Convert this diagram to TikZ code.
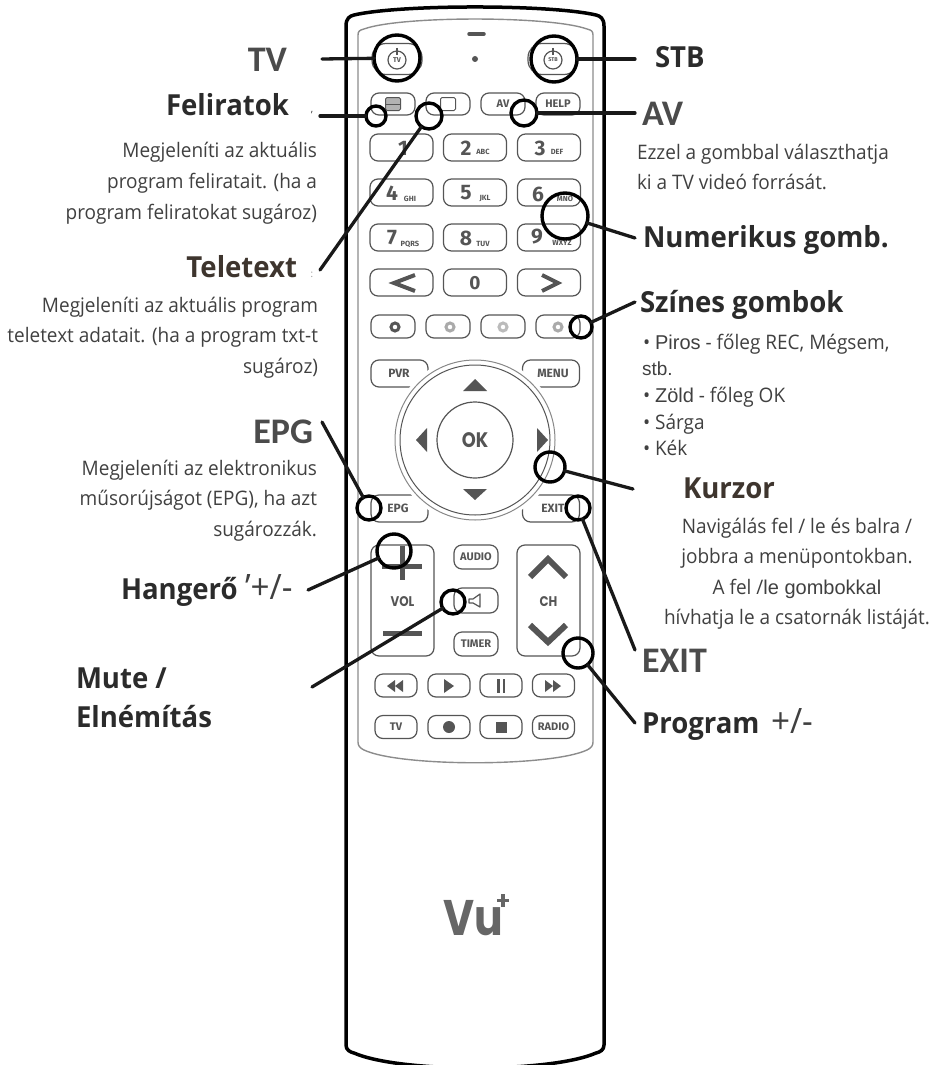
\documentclass[tikz,border=0pt]{standalone}
\usepackage{fontspec}
\setmainfont{Open Sans}[FakeStretch=0.95]
\newfontfamily\capfont{Carlito}
\newfontfamily\armfont{Liberation Sans}
\newfontfamily\keyfont{Fira Sans}
\newfontfamily\logofont{Poppins}[FakeStretch=0.85]
\definecolor{keygray}{HTML}{555555}
\definecolor{panelgray}{HTML}{8C8C8C}
\definecolor{inktext}{HTML}{2B2B2B}
\definecolor{browntext}{HTML}{3E352E}
\begin{document}
\begin{tikzpicture}[x={(1pt,0pt)},y={(0pt,-1pt)},
  every node/.style={inner sep=0pt, outer sep=0pt},
  btn/.style={draw=keygray, line width=1.2pt, rounded corners=8pt, text=keygray, font=\keyfont\bfseries\fontsize{11}{11}\selectfont},
  lead/.style={circle, draw=black, line width=3.4pt, minimum size=#1},
  wire/.style={line width=3.3pt, color=black!90, line cap=round},
  head/.style={font=\bfseries\fontsize{29}{29}\selectfont, text=inktext},
  caph/.style={font=\capfont\bfseries\fontsize{36}{36}\selectfont, text=inktext!85},
  body/.style={font=\fontsize{20}{20}\selectfont, text=inktext!90},
  sign/.style={font=\fontsize{35}{35}\selectfont, text=inktext!90},
  digit/.style={text=keygray, font=\keyfont\bfseries\fontsize{21}{21}\selectfont},
  abc/.style={text=keygray, font=\keyfont\bfseries\fontsize{7.5}{7.5}\selectfont},
  keyw/.style={text=keygray, font=\logofont\bfseries\fontsize{#1}{#1}\selectfont}]
\useasboundingbox (0,0) rectangle (934,1065);
\draw[line width=3.5pt] (346,1045) -- (346,26) .. controls (346,18) and (350,16) .. (354,15) .. controls (400,4.3) and (550,4.3) .. (596,15) .. controls (600,16) and (604,18) .. (604,26) -- (604,1045) .. controls (604,1050) and (600,1052) .. (596,1053) .. controls (550,1073) and (400,1073) .. (354,1053) .. controls (350,1052) and (346,1050) .. (346,1045) -- cycle;
\draw[color=panelgray,line width=1.4pt] (358,742) -- (358,35) .. controls (358,31) and (360,30) .. (364,29) .. controls (400,15.7) and (550,15.7) .. (587,29) .. controls (591,30) and (593,31) .. (593,35) -- (593,742) .. controls (593,746) and (591,748) .. (587,750) .. controls (550,767) and (400,767) .. (364,750) .. controls (360,748) and (358,746) .. (358,742) -- cycle;
\draw[line width=3.5pt,color=keygray,line cap=round] (469,34) -- (484,34);
\node[circle,fill=keygray,minimum size=6] (ledmark) at (475,59) {};
\node[btn,rounded corners=14pt,minimum width=50,minimum height=31] (tvbtn) at (397,59) {};
\node[btn,rounded corners=14pt,minimum width=50,minimum height=31] (stbbtn) at (553,59) {};
\node[circle,draw=keygray,line width=1.2pt,minimum size=18,text=keygray,font=\keyfont\bfseries\fontsize{7}{7}\selectfont] (tvicon) at (397,60) {TV};
\node[circle,draw=keygray,line width=1.2pt,minimum size=18,text=keygray,font=\keyfont\bfseries\fontsize{5.5}{5.5}\selectfont] (stbicon) at (553,60) {STB};
\draw[color=keygray,line width=1.2pt] (397,48) -- (397,55);
\draw[color=keygray,line width=1.2pt] (553,48) -- (553,55);
\node[btn,minimum width=44,minimum height=22] (txtbtn) at (393,104) {};
\node[btn,minimum width=44,minimum height=22] (subbtn) at (448,104) {};
\node[btn,minimum width=44,minimum height=22] (avbtn) at (503,104) {AV};
\node[btn,minimum width=44,minimum height=22] (helpbtn) at (558,104) {HELP};
\node[draw=keygray,fill=keygray!45,line width=1pt,rounded corners=1.5pt,minimum width=15,minimum height=13] (txticon) at (393,104) {};
\draw[color=keygray,line width=1pt] (txticon.west) -- (txticon.east);
\node[draw=keygray,line width=1pt,rounded corners=1.5pt,minimum width=15,minimum height=13] (subicon) at (448,104) {};
\node[btn,minimum width=63,minimum height=27] (numa) at (401.5,147.5) {};
\node[btn,minimum width=63,minimum height=27] (numb) at (475,147.5) {};
\node[btn,minimum width=63,minimum height=27] (numc) at (549,147.5) {};
\node[btn,minimum width=63,minimum height=27] (numd) at (401.5,192.5) {};
\node[btn,minimum width=63,minimum height=27] (nume) at (475,192.5) {};
\node[btn,minimum width=63,minimum height=27] (numf) at (549,192.5) {};
\node[btn,minimum width=63,minimum height=27] (numg) at (401.5,237.5) {};
\node[btn,minimum width=63,minimum height=27] (numh) at (475,237.5) {};
\node[btn,minimum width=63,minimum height=27] (numi) at (549,237.5) {};
\node[btn,minimum width=63,minimum height=27] (numl) at (401.5,282.5) {};
\node[btn,minimum width=63,minimum height=27] (numo) at (475,282.5) {};
\node[btn,minimum width=63,minimum height=27] (numr) at (549,282.5) {};
\node[digit] (dga) at (403,148) {1};
\node[digit] (dgb) at (466,148) {2};
\node[digit] (dgc) at (540,148) {3};
\node[digit] (dgd) at (392,193) {4};
\node[digit] (dge) at (466,193) {5};
\node[digit] (dgf) at (538,194) {6};
\node[digit] (dgg) at (392,238) {7};
\node[digit] (dgh) at (466,238) {8};
\node[digit] (dgi) at (537,237) {9};
\node[abc] (aba) at (483,152) {ABC};
\node[abc] (abb) at (557,152) {DEF};
\node[abc] (abc) at (410,199) {GHI};
\node[abc] (abd) at (485,199) {JKL};
\node[abc] (abe) at (565,199) {MNO};
\node[abc] (abf) at (410,244) {PQRS};
\node[abc] (abg) at (483,244) {TUV};
\node[abc] (abh) at (562,243) {WXYZ};
\node[digit,font=\keyfont\bfseries\fontsize{19}{19}\selectfont] (dgo) at (475,283) {0};
\draw[color=keygray,line width=4pt] (415,275) -- (394,283) -- (415,291);
\draw[color=keygray,line width=4pt] (542,275) -- (558,283) -- (542,291);
\node[btn,minimum width=44,minimum height=23] (redbtn) at (393,326.5) {};
\node[btn,minimum width=44,minimum height=23] (grnbtn) at (448,326.5) {};
\node[btn,minimum width=44,minimum height=23] (ylwbtn) at (503,326.5) {};
\node[btn,minimum width=44,minimum height=23] (blubtn) at (558,326.5) {};
\node[circle,draw=keygray,line width=3pt,minimum size=8] (reddot) at (395,327) {};
\node[circle,draw=keygray!50,line width=3pt,minimum size=8] (grndot) at (450,327) {};
\node[circle,draw=keygray!40,line width=3pt,minimum size=8] (ylwdot) at (503,327) {};
\node[circle,draw=keygray!50,line width=3pt,minimum size=8] (bludot) at (558,327) {};
\node[btn,minimum width=57,minimum height=27] (pvrbtn) at (399.5,373.5) {};
\node[btn,minimum width=57,minimum height=27] (menubtn) at (551,373.5) {};
\node[btn,minimum width=57,minimum height=27] (epgbtn) at (399.5,508.5) {};
\node[btn,minimum width=57,minimum height=27] (exitbtn) at (551,508.5) {};
\node[circle,fill=white,minimum size=168] (ringbg) at (475,440) {};
\node[circle,draw=keygray!70,line width=1pt,minimum size=160] (ringa) at (475,440) {};
\node[circle,draw=keygray,line width=1pt,minimum size=150] (ringb) at (475,440) {};
\node[circle,draw=keygray,line width=1.2pt,minimum size=76,keyw=21] (okbtn) at (475,440) {OK};
\node[btn,draw=none,font=\keyfont\bfseries\fontsize{12}{12}\selectfont] (pvrtext) at (399,373) {PVR};
\node[btn,draw=none,font=\keyfont\bfseries\fontsize{12}{12}\selectfont] (menutext) at (553,373) {MENU};
\node[btn,draw=none,font=\keyfont\bfseries\fontsize{12}{12}\selectfont] (epgtext) at (398,508) {EPG};
\node[btn,draw=none,font=\keyfont\bfseries\fontsize{12}{12}\selectfont] (exittext) at (553,508) {EXIT};
\fill[color=keygray] (475,379) -- (487,391) -- (463,391) -- cycle;
\fill[color=keygray] (475,500) -- (487,489) -- (463,489) -- cycle;
\fill[color=keygray] (416,440) -- (427,428) -- (427,452) -- cycle;
\fill[color=keygray] (537,428) -- (537,452) -- (548,440) -- cycle;
\node[btn,minimum width=63,minimum height=111] (volbtn) at (402.5,600.5) {};
\node[btn,minimum width=63,minimum height=111] (chbtn) at (548.5,600.5) {};
\node[keyw=14] (voltext) at (402.5,602) {VOL};
\node[keyw=14] (chtext) at (548.5,602) {CH};
\draw[color=keygray,line width=5pt] (382,566) -- (422,566);
\draw[color=keygray,line width=5pt] (402,546) -- (402,580);
\draw[color=keygray,line width=5pt] (383,633) -- (422,633);
\draw[color=keygray,line width=6pt] (530,577) -- (548,559) -- (566,577);
\draw[color=keygray,line width=6pt] (530,625) -- (548,642) -- (566,625);
\node[btn,minimum width=44,minimum height=24] (audiobtn) at (476,557) {AUDIO};
\node[btn,minimum width=44,minimum height=25] (mutebtn) at (476,600.5) {};
\node[btn,minimum width=44,minimum height=24] (timerbtn) at (476,644) {TIMER};
\draw[color=keygray,line width=1.2pt,line join=round] (469,599) -- (473,599) -- (480,594) -- (480,607) -- (473,603) -- (469,603) -- cycle;
\node[btn,minimum width=42,minimum height=23] (rewbtn) at (396,685.5) {};
\node[btn,minimum width=42,minimum height=23] (playbtn) at (449,685.5) {};
\node[btn,minimum width=42,minimum height=23] (pausebtn) at (501,685.5) {};
\node[btn,minimum width=42,minimum height=23] (ffbtn) at (553.5,685.5) {};
\node[btn,minimum width=42,minimum height=23] (tvkey) at (396,727) {TV};
\node[btn,minimum width=42,minimum height=23] (recbtn) at (449,727) {};
\node[btn,minimum width=42,minimum height=23] (stopbtn) at (501,727) {};
\node[btn,minimum width=42,minimum height=23] (radiobtn) at (553.5,727) {RADIO};
\fill[color=keygray] (387,686) -- (395,680) -- (395,692) -- cycle;
\fill[color=keygray] (395,686) -- (403,680) -- (403,692) -- cycle;
\fill[color=keygray] (444,679) -- (454,686) -- (444,693) -- cycle;
\fill[color=keygray] (497,679) rectangle (499.5,693);
\fill[color=keygray] (502.5,679) rectangle (505,693);
\fill[color=keygray] (545,680) -- (553,686) -- (545,692) -- cycle;
\fill[color=keygray] (553,680) -- (561,686) -- (553,692) -- cycle;
\node[circle,fill=keygray,minimum size=12] (recdot) at (449,727) {};
\node[fill=keygray,minimum size=11] (stopsq) at (501,727) {};
\node[keyw=50,text=keygray!90,anchor=base west] (vulogo) at (443,935) {Vu};
\fill[color=keygray!90] (497,898.5) rectangle (509,902);
\fill[color=keygray!90] (501.2,894) rectangle (504.8,906.5);
\node[lead=46] (tvring) at (397,58) {};
\node[lead=46] (stbring) at (554,59) {};
\node[lead=20] (subring) at (376,116) {};
\node[lead=26] (ttxring) at (429,116) {};
\node[lead=26] (avring) at (524,113) {};
\node[lead=46] (numring) at (565,216) {};
\node[lead=22] (colring) at (581,327) {};
\node[lead=30] (curring) at (550,467) {};
\node[lead=24] (exitring) at (578,508) {};
\node[lead=30] (prgring) at (578,653) {};
\node[lead=24] (epgring) at (369,508) {};
\node[lead=34] (volring) at (394,551) {};
\node[lead=24] (mutering) at (453,602) {};
\coordinate (tvend) at (322,59);
\coordinate (stbend) at (635,59);
\coordinate (subend) at (320,116);
\coordinate (ttxend) at (320,270);
\coordinate (avend) at (635,113);
\coordinate (numend) at (635,238);
\coordinate (colend) at (635,302);
\coordinate (curend) at (633,489);
\coordinate (exitend) at (635,650);
\coordinate (prgend) at (635,723);
\coordinate (epgend) at (322,422);
\coordinate (volend) at (308,590);
\coordinate (muteend) at (312,687);
\draw[wire] (tvend) -- (tvring);
\draw[wire] (stbend) -- (stbring);
\draw[wire] (subend) -- (subring);
\draw[wire] (ttxend) -- (ttxring);
\draw[wire] (avend) -- (avring);
\draw[wire] (numend) -- (numring);
\draw[wire] (colend) -- (colring);
\draw[wire] (curend) -- (curring);
\draw[wire] (exitend) -- (exitring);
\draw[wire] (prgend) -- (prgring);
\draw[wire] (epgend) -- (epgring);
\draw[wire] (volend) -- (volring);
\draw[wire] (muteend) -- (mutering);
\node[caph,anchor=base east] (tvlabel) at (287,71) {TV};
\node[head,anchor=base east] (sublabel) at (289,115) {Feliratok};
\node[inktext,anchor=base] (submark) at (312,112) {,};
\node[body,anchor=base east] (suba) at (317,157) {Megjeleníti az aktuális};
\node[body,anchor=base east] (subb) at (317,188) {program feliratait. (ha a};
\node[body,anchor=base east] (subc) at (317,219) {program feliratokat sugároz)};
\node[head,text=browntext,anchor=base east] (ttxlabel) at (297,277) {Teletext};
\node[text=inktext!50,anchor=base] (ttxmark) at (312,277) {:};
\node[body,anchor=base east] (ttxa) at (318,312) {Megjeleníti az aktuális program};
\node[body,anchor=base east] (ttxb) at (318,342) {teletext adatait. (ha a program txt-t};
\node[body,anchor=base east] (ttxc) at (318,373) {sugároz)};
\node[caph,anchor=base east] (epglabel) at (313,443) {EPG};
\node[body,anchor=base east] (epga) at (317,475) {Megjeleníti az elektronikus};
\node[body,anchor=base east] (epgb) at (317,505) {műsorújságot (EPG), ha azt};
\node[body,anchor=base east] (epgc) at (317,536) {sugározzák.};
\node[head,anchor=base west] (vollabel) at (121,599) {Hangerő};
\node[sign,anchor=base west] (volsign) at (245,599) {'+/-};
\node[head,anchor=base west] (mutelabel) at (76,688) {Mute /};
\node[head,anchor=base west] (mutelabelb) at (76,727) {Elnémítás};
\node[head,anchor=base west] (stblabel) at (655,67) {STB};
\node[caph,anchor=base west] (avlabel) at (642,125) {AV};
\node[body,anchor=base west] (ava) at (637,159) {Ezzel a gombbal választhatja};
\node[body,anchor=base west] (avb) at (637,189) {ki a TV videó forrását.};
\node[head,anchor=base west] (numlabel) at (643,247) {Numerikus gomb.};
\node[head,anchor=base west] (collabel) at (640,312) {Színes gombok};
\node[body,anchor=base west] (cola) at (643,349) {• {\armfont Piros} - főleg REC, Mégsem,};
\node[body,anchor=base west,font=\armfont\fontsize{19}{19}\selectfont] (colb) at (642,375) {stb.};
\node[body,anchor=base west] (colc) at (643,402) {• {\armfont Zöld} - főleg OK};
\node[body,anchor=base west] (cold) at (643,429) {• Sárga};
\node[body,anchor=base west] (cole) at (643,455) {• Kék};
\node[head,text=browntext,anchor=base west] (curlabel) at (683,498) {Kurzor};
\node[body,anchor=base] (cura) at (797,533) {Navigálás fel / le és balra /};
\node[body,anchor=base] (curb) at (797,563) {jobbra a menüpontokban.};
\node[body,anchor=base] (curc) at (797,594) {A fel /{\armfont le gombokkal}};
\node[body,anchor=base] (curd) at (797,624) {hívhatja le a csatornák listáját.};
\node[caph,anchor=base west] (exitlabel) at (642,672) {EXIT};
\node[head,anchor=base west] (prglabel) at (642,733) {Program};
\node[sign,anchor=base west] (prgsign) at (771,733) {+/-};
\end{tikzpicture}
\end{document}
